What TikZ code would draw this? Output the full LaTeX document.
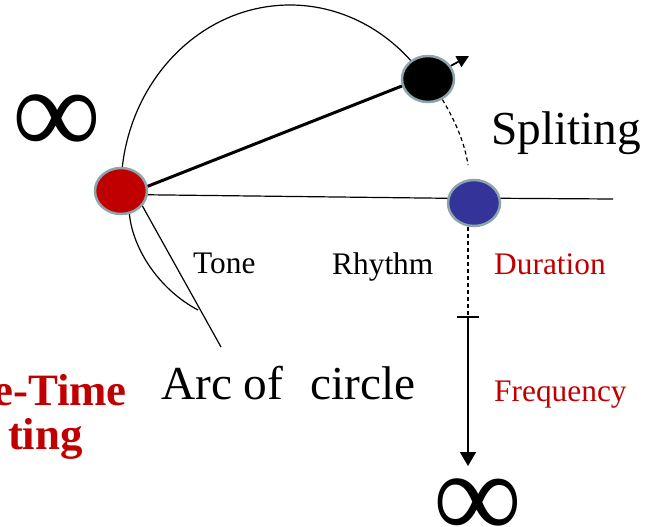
\documentclass[tikz,border=0pt]{standalone}
\usepackage{fontspec}
\setmainfont{Liberation Serif}
\usetikzlibrary{shapes.geometric,arrows.meta}
\pgfdeclarelayer{background}
\pgfsetlayers{background,main}
\definecolor{ringc}{RGB}{140,165,170}
\definecolor{redfill}{RGB}{192,0,0}
\definecolor{bluefill}{RGB}{51,51,153}
\definecolor{redtxt}{RGB}{192,0,0}
\tikzset{
  dot/.style={ellipse,draw=ringc,line width=2.5bp,minimum width=52bp,minimum height=46bp,inner sep=0pt},
  thinline/.style={line width=1.2bp},
  lbl/.style={inner sep=0pt,font=\fontsize{31.5}{31.5}\selectfont},
  big/.style={inner sep=0pt,font=\fontsize{47.5}{47.5}\selectfont},
  bigred/.style={inner sep=0pt,text=redtxt,font=\fontsize{45}{45}\selectfont\bfseries},
  inf/.style={inner sep=0pt,font=\fontsize{125}{125}\selectfont}
}
\begin{document}
\begin{tikzpicture}[x=1bp,y=-1bp]
\useasboundingbox (0,0) rectangle (652,527);
\clip (0,0) rectangle (652,527);
% nodes
\node[dot,fill=redfill] (red) at (121,191) {};
\node[dot,fill=black] (black) at (428,79) {};
\node[dot,fill=bluefill] (blue) at (474,203) {};
% free ends
\coordinate (arcbot) at (198,310);
\coordinate (linebot) at (221,347);
\coordinate (rightend) at (613,199);
\coordinate (dashend) at (468,165);
\coordinate (tick) at (468,317);
\coordinate (freqend) at (468,466);
\coordinate (arrowtip) at (469,56);
\begin{pgfonlayer}{background}
\draw[thinline] (121,190) arc[start angle=180,end angle=318,x radius=169,y radius=185];
\end{pgfonlayer}
\draw[line width=3bp] (red.10) -- (black.195);
\draw[thinline] (red.-8) -- (blue.170);
\draw[thinline] (blue.10) -- (rightend);
\draw[thinline] (red.-70) .. controls (133,250) and (160,290) .. (arcbot);
\draw[thinline] (red.-35) -- (linebot);
\draw[thinline,dash pattern=on 4bp off 3bp] (black.-55) .. controls (457,124) and (465,145) .. (dashend);
\draw[thinline,dash pattern=on 4bp off 3bp] (blue.south -| tick) -- (tick);
\draw[thinline] ([xshift=-11bp]tick) -- ([xshift=11bp]tick);
\draw[line width=1.8bp,-{Triangle[length=14bp,width=16bp]}] (tick) -- (freqend);
\draw[line width=1.8bp,-{Triangle[length=12bp,width=12bp]}] (black.30) -- (arrowtip);
% texts
\node[lbl,anchor=base west] (tone) at (193,273) {Tone};
\node[lbl,anchor=base west] (rhythm) at (332,274) {Rhythm};
\node[lbl,anchor=base west,text=redtxt] (duration) at (494,274) {Duration};
\node[lbl,anchor=base west,text=redtxt] (frequency) at (494,401) {Frequency};
\node[big,anchor=base west] (spliting) at (491,145) {Spliting};
\node[big,anchor=base west] (arc) at (161,399) {Arc of\hspace{0.57em}circle};
\node[bigred,anchor=base east] (st1) at (127,405) {e-Time};
\node[bigred,anchor=base east] (st2) at (83,449) {ting};
\node[inf] (inf1) at (57,125) {∞};
\node[inf] (inf2) at (478,509) {∞};
\end{tikzpicture}
\end{document}
